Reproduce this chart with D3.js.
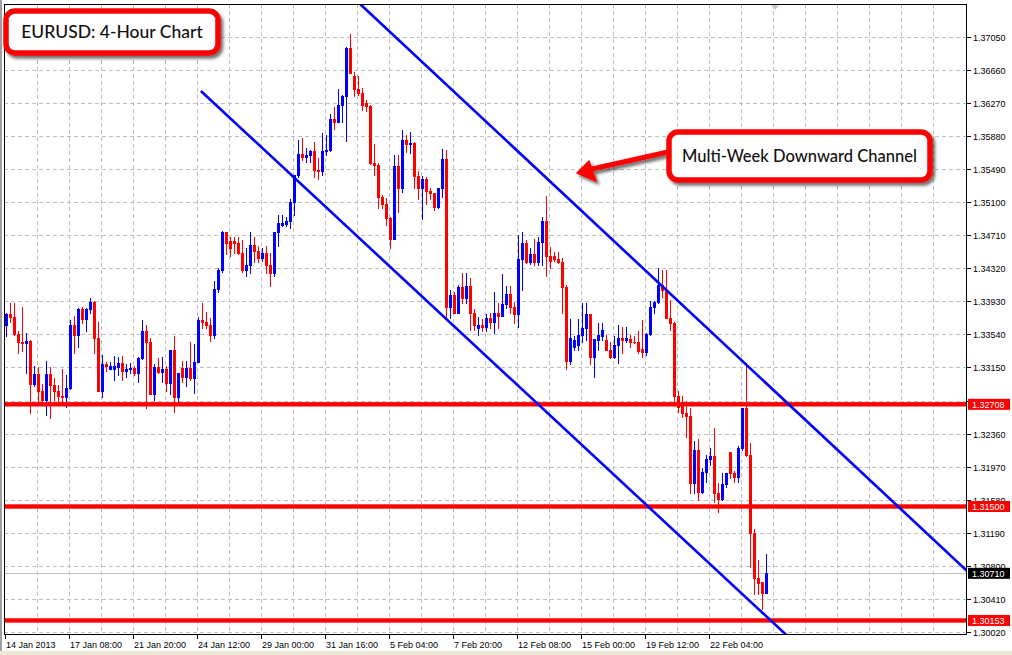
<!DOCTYPE html>
<html><head><meta charset="utf-8">
<script src="https://cdn.jsdelivr.net/npm/d3@7"></script>
<style>html,body{margin:0;padding:0;background:#fff;overflow:hidden}svg{display:block}</style>
</head><body><svg id="chart" width="1012" height="655"></svg>
<script>
// ---- data ----
const open = [1.3364,1.3377,1.3374,1.3354,1.3344,1.3343,1.3346,1.3295,1.3307,1.3286,1.3276,1.3307,1.3294,1.3286,1.3281,1.3280,1.3290,1.3364,1.3353,1.3383,
1.3372,1.3383,1.3392,1.3349,1.3287,1.3319,1.3313,1.3313,1.3315,1.3320,1.3310,1.3312,1.3314,1.3308,1.3325,1.3358,1.3344,1.3283,1.3315,1.3309,
1.3312,1.3296,1.3335,1.3279,1.3314,1.3303,1.3314,1.3302,1.3321,1.3371,1.3368,1.3365,1.3353,1.3407,1.3429,1.3474,1.3464,1.3464,1.3462,1.3450,
1.3429,1.3435,1.3459,1.3452,1.3444,1.3450,1.3436,1.3426,1.3475,1.3483,1.3484,1.3487,1.3510,1.3542,1.3567,1.3563,1.3565,1.3570,1.3548,1.3547,
1.3570,1.3572,1.3608,1.3605,1.3625,1.3635,1.3692,1.3659,1.3643,1.3639,1.3627,1.3624,1.3556,1.3554,1.3516,1.3507,1.3491,1.3466,1.3553,1.3527,
1.3583,1.3578,1.3580,1.3541,1.3527,1.3537,1.3523,1.3520,1.3504,1.3527,1.3561,1.3386,1.3400,1.3379,1.3410,1.3396,1.3411,1.3379,1.3361,1.3365,
1.3362,1.3373,1.3368,1.3379,1.3375,1.3389,1.3401,1.3386,1.3377,1.3442,1.3462,1.3439,1.3449,1.3439,1.3463,1.3487,1.3446,1.3446,1.3442,1.3439,
1.3410,1.3322,1.3339,1.3341,1.3353,1.3361,1.3377,1.3327,1.3347,1.3352,1.3347,1.3335,1.3327,1.3341,1.3349,1.3347,1.3348,1.3345,1.3344,1.3336,
1.3333,1.3354,1.3386,1.3392,1.3412,1.3406,1.3373,1.3367,1.3281,1.3274,1.3261,1.3257,1.3178,1.3217,1.3167,1.3191,1.3206,1.3210,1.3166,1.3159,
1.3177,1.3215,1.3190,1.3185,1.3219,1.3266,1.3211,1.3119,1.3065,1.3061,1.3048];
const high = [1.3379,1.3391,1.3391,1.3357,1.3386,1.3355,1.3347,1.3316,1.3315,1.3295,1.3322,1.3315,1.3302,1.3294,1.3313,1.3305,1.3371,1.3375,1.3385,1.3386,
1.3385,1.3396,1.3393,1.3368,1.3329,1.3321,1.3321,1.3328,1.3327,1.3328,1.3319,1.3320,1.3316,1.3327,1.3370,1.3365,1.3349,1.3318,1.3326,1.3327,
1.3316,1.3335,1.3352,1.3308,1.3322,1.3322,1.3345,1.3342,1.3374,1.3391,1.3380,1.3373,1.3417,1.3432,1.3476,1.3475,1.3469,1.3468,1.3468,1.3465,
1.3456,1.3475,1.3469,1.3458,1.3456,1.3458,1.3450,1.3475,1.3495,1.3494,1.3492,1.3513,1.3542,1.3583,1.3586,1.3574,1.3571,1.3581,1.3562,1.3592,
1.3589,1.3614,1.3622,1.3644,1.3637,1.3693,1.3708,1.3664,1.3659,1.3645,1.3631,1.3625,1.3578,1.3556,1.3518,1.3515,1.3492,1.3565,1.3566,1.3595,
1.3589,1.3593,1.3581,1.3547,1.3541,1.3539,1.3527,1.3521,1.3527,1.3573,1.3572,1.3406,1.3404,1.3412,1.3426,1.3426,1.3420,1.3383,1.3374,1.3372,
1.3377,1.3379,1.3403,1.3391,1.3425,1.3411,1.3411,1.3392,1.3471,1.3474,1.3465,1.3456,1.3466,1.3469,1.3492,1.3517,1.3457,1.3451,1.3451,1.3444,
1.3412,1.3372,1.3351,1.3372,1.3391,1.3391,1.3378,1.3348,1.3367,1.3367,1.3353,1.3345,1.3351,1.3364,1.3362,1.3362,1.3353,1.3351,1.3357,1.3371,
1.3355,1.3393,1.3393,1.3432,1.3430,1.3430,1.3394,1.3368,1.3287,1.3281,1.3275,1.3266,1.3227,1.3230,1.3195,1.3211,1.3219,1.3243,1.3178,1.3190,
1.3190,1.3215,1.3192,1.3221,1.3267,1.3320,1.3225,1.3123,1.3087,1.3061,1.3094];
const low = [1.3351,1.3368,1.3353,1.3332,1.3334,1.3308,1.3261,1.3292,1.3273,1.3273,1.3258,1.3255,1.3276,1.3273,1.3273,1.3268,1.3289,1.3332,1.3339,1.3367,
1.3358,1.3379,1.3332,1.3287,1.3279,1.3310,1.3312,1.3299,1.3305,1.3299,1.3303,1.3308,1.3305,1.3297,1.3324,1.3266,1.3283,1.3276,1.3308,1.3297,
1.3286,1.3283,1.3262,1.3274,1.3297,1.3292,1.3300,1.3284,1.3321,1.3361,1.3361,1.3346,1.3349,1.3403,1.3427,1.3449,1.3446,1.3450,1.3448,1.3427,
1.3422,1.3426,1.3439,1.3439,1.3440,1.3426,1.3411,1.3423,1.3458,1.3481,1.3481,1.3479,1.3495,1.3539,1.3560,1.3557,1.3557,1.3540,1.3537,1.3542,
1.3566,1.3570,1.3596,1.3604,1.3604,1.3582,1.3663,1.3635,1.3637,1.3619,1.3617,1.3555,1.3542,1.3503,1.3503,1.3483,1.3455,1.3466,1.3498,1.3522,
1.3569,1.3568,1.3527,1.3513,1.3490,1.3507,1.3513,1.3501,1.3503,1.3516,1.3373,1.3373,1.3379,1.3379,1.3391,1.3390,1.3359,1.3359,1.3353,1.3357,
1.3357,1.3361,1.3355,1.3361,1.3375,1.3385,1.3379,1.3367,1.3362,1.3406,1.3438,1.3437,1.3435,1.3435,1.3436,1.3423,1.3432,1.3440,1.3438,1.3379,
1.3312,1.3318,1.3335,1.3335,1.3345,1.3347,1.3318,1.3303,1.3335,1.3347,1.3335,1.3326,1.3326,1.3320,1.3332,1.3344,1.3339,1.3343,1.3331,1.3327,
1.3329,1.3353,1.3379,1.3391,1.3398,1.3373,1.3359,1.3273,1.3262,1.3256,1.3232,1.3166,1.3166,1.3158,1.3166,1.3179,1.3199,1.3155,1.3143,1.3158,
1.3173,1.3184,1.3179,1.3179,1.3217,1.3210,1.3078,1.3047,1.3046,1.3029,1.3048];
const close = [1.3377,1.3374,1.3354,1.3344,1.3343,1.3346,1.3295,1.3307,1.3286,1.3276,1.3307,1.3294,1.3286,1.3281,1.3280,1.3290,1.3364,1.3353,1.3383,1.3372,
1.3383,1.3392,1.3349,1.3287,1.3319,1.3316,1.3316,1.3316,1.3320,1.3310,1.3313,1.3314,1.3308,1.3325,1.3358,1.3344,1.3283,1.3315,1.3309,1.3312,
1.3296,1.3335,1.3279,1.3308,1.3303,1.3314,1.3302,1.3321,1.3371,1.3368,1.3365,1.3353,1.3407,1.3429,1.3474,1.3462,1.3456,1.3462,1.3450,1.3429,
1.3435,1.3459,1.3452,1.3444,1.3450,1.3436,1.3426,1.3475,1.3485,1.3485,1.3487,1.3510,1.3542,1.3567,1.3563,1.3566,1.3570,1.3548,1.3547,1.3570,
1.3572,1.3608,1.3605,1.3625,1.3635,1.3692,1.3663,1.3643,1.3639,1.3625,1.3624,1.3556,1.3554,1.3516,1.3507,1.3491,1.3466,1.3553,1.3527,1.3583,
1.3579,1.3580,1.3541,1.3527,1.3537,1.3523,1.3520,1.3504,1.3527,1.3561,1.3386,1.3400,1.3379,1.3410,1.3396,1.3411,1.3379,1.3364,1.3365,1.3362,
1.3373,1.3368,1.3379,1.3375,1.3389,1.3401,1.3386,1.3377,1.3442,1.3462,1.3439,1.3449,1.3439,1.3463,1.3487,1.3446,1.3440,1.3442,1.3439,1.3410,
1.3322,1.3349,1.3347,1.3353,1.3361,1.3377,1.3327,1.3348,1.3353,1.3359,1.3335,1.3327,1.3341,1.3349,1.3347,1.3349,1.3345,1.3344,1.3334,1.3333,
1.3354,1.3386,1.3392,1.3412,1.3406,1.3373,1.3367,1.3281,1.3268,1.3261,1.3257,1.3178,1.3217,1.3167,1.3191,1.3206,1.3210,1.3166,1.3159,1.3177,
1.3190,1.3190,1.3185,1.3219,1.3266,1.3211,1.3119,1.3065,1.3060,1.3048,1.3071];

const dateLabels = ["14 Jan 2013","17 Jan 08:00","21 Jan 20:00","24 Jan 12:00","29 Jan 00:00","31 Jan 16:00",
  "5 Feb 04:00","7 Feb 20:00","12 Feb 08:00","15 Feb 00:00","19 Feb 12:00","22 Feb 04:00"];
const barsPerDateLabel = 16;
const priceTicks = [1.37050,1.36660,1.36270,1.35880,1.35490,1.35100,1.34710,1.34320,1.33930,1.33540,1.33150,
  1.32750,1.32360,1.31970,1.31580,1.31190,1.30800,1.30410,1.30020];
const levels = [1.32708, 1.31500, 1.30153];
const lastPrice = 1.30710;
const upperChannel = [[88.6, 1.37440], [223.1, 1.31500]];
const lowerChannel = [[48.8, 1.36412], [160.6, 1.31500]];
const titleText = "EURUSD: 4-Hour Chart";
const noteText = "Multi-Week Downward Channel";

// ---- layout ----
const svg = d3.select("#chart");
const W = 1012, H = 655;
const PL = 4, PR = 966, PT = 4, PB = 634;
const BLUE = "#0000ff", RED = "#ff0000";

const x = d3.scaleLinear().domain([-0.25, 240]).range([4.7, 965.7]);
const y = d3.scaleLinear().domain([1.30020, 1.37050]).range([631.7, 37]);

svg.append("rect").attr("width", W).attr("height", H).attr("fill", "#ffffff");
svg.append("rect").attr("x", 0).attr("y", 651).attr("width", W).attr("height", 4).attr("fill", "#ece9d8");
svg.append("rect").attr("x", 0).attr("y", 0).attr("width", 2).attr("height", 651).attr("fill", "#a0a0a0");

const defs = svg.append("defs");
defs.append("clipPath").attr("id", "plotclip").append("rect")
  .attr("x", PL + 0.5).attr("y", PT + 0.5).attr("width", PR - PL - 0.5).attr("height", PB - PT - 0.5);
const f = defs.append("filter").attr("id", "shadow").attr("x", "-10%").attr("y", "-20%").attr("width", "130%").attr("height", "160%");
f.append("feDropShadow").attr("dx", 2.5).attr("dy", 3).attr("stdDeviation", 1.8)
  .attr("flood-color", "#000").attr("flood-opacity", 0.55);

const plot = svg.append("g").attr("clip-path", "url(#plotclip)");

// grid
const gridColor = "#c0c0c0";
const gx = plot.append("g").attr("shape-rendering", "crispEdges");
for (let b = 8; b < 240; b += 8) {
  const xx = Math.round(x(b)) - 0.5;
  gx.append("line").attr("x1", xx).attr("x2", xx).attr("y1", PT).attr("y2", PB)
    .attr("stroke", gridColor).attr("stroke-dasharray", "4,3");
}
priceTicks.forEach(p => {
  const yy = Math.round(y(p)) + 0.5;
  gx.append("line").attr("x1", PL).attr("x2", PR).attr("y1", yy).attr("y2", yy)
    .attr("stroke", gridColor).attr("stroke-dasharray", "4,3");
});
// last price line
plot.append("line").attr("x1", PL).attr("x2", PR)
  .attr("y1", Math.round(y(lastPrice)) + 0.5).attr("y2", Math.round(y(lastPrice)) + 0.5)
  .attr("stroke", "#c0c0c0").attr("shape-rendering", "crispEdges");

// candles
const data = open.map((o, i) => ({i, o, h: high[i], l: low[i], c: close[i]}));
const cg = plot.append("g").attr("shape-rendering", "crispEdges");
data.forEach(d => {
  const cx = Math.round(x(d.i));
  const col = d.c >= d.o ? BLUE : RED;
  const yh = Math.round(y(d.h)), yl = Math.round(y(d.l));
  cg.append("rect").attr("x", cx).attr("y", yh).attr("width", 1).attr("height", Math.max(1, yl - yh + 1)).attr("fill", col);
  const yt = Math.round(y(Math.max(d.o, d.c))), yb = Math.round(y(Math.min(d.o, d.c)));
  cg.append("rect").attr("x", cx - 1).attr("y", yt).attr("width", 3).attr("height", Math.max(1, yb - yt + 1)).attr("fill", col);
});

// horizontal levels
levels.forEach(p => {
  plot.append("rect").attr("x", PL).attr("width", PR - PL).attr("y", y(p) - 2.2).attr("height", 4.4).attr("fill", RED);
});

// channel lines
function ray(pts) {
  const [a, b] = pts;
  const slope = (b[1] - a[1]) / (b[0] - a[0]);
  const endBar = 260;
  return [[x(a[0]), y(a[1])], [x(endBar), y(a[1] + slope * (endBar - a[0]))]];
}
[upperChannel, lowerChannel].forEach(ch => {
  const s = ray(ch);
  plot.append("line").attr("x1", s[0][0]).attr("y1", s[0][1]).attr("x2", s[1][0]).attr("y2", s[1][1])
    .attr("stroke", BLUE).attr("stroke-width", 2.6);
});

// frame
svg.append("rect").attr("x", PL + 0.5).attr("y", PT + 0.5).attr("width", PR - PL).attr("height", PB - PT)
  .attr("fill", "none").attr("stroke", "#000").attr("shape-rendering", "crispEdges");
// shift marker
svg.append("path").attr("d", "M771,5 L779,5 L775,10 Z").attr("fill", "#c8c8c8");

// right axis
const ax = svg.append("g").attr("font-family", "Liberation Sans, Arial, sans-serif").attr("font-size", "9px");
priceTicks.forEach(p => {
  const yy = Math.round(y(p)) + 0.5;
  ax.append("line").attr("x1", PR + 0.5).attr("x2", PR + 4.5).attr("y1", yy).attr("y2", yy).attr("stroke", "#000").attr("shape-rendering", "crispEdges");
  ax.append("text").attr("x", 973).attr("y", yy).attr("dy", "0.35em").attr("fill", "#000").text(p.toFixed(5));
});
function priceTag(p, bg) {
  const yy = y(p);
  ax.append("rect").attr("x", 968).attr("y", yy - 5.5).attr("width", 42).attr("height", 11).attr("fill", bg);
  ax.append("text").attr("x", 972).attr("y", yy).attr("dy", "0.36em").attr("fill", "#fff").text(p.toFixed(5));
}
levels.forEach(p => priceTag(p, RED));
priceTag(lastPrice, "#000");

// bottom axis
const bx = svg.append("g").attr("font-family", "Liberation Sans, Arial, sans-serif").attr("font-size", "9px");
dateLabels.forEach((t, k) => {
  const xx = Math.round(x(k * barsPerDateLabel)) - 0.5;
  bx.append("line").attr("x1", xx).attr("x2", xx).attr("y1", PB + 0.5).attr("y2", PB + 5).attr("stroke", "#000").attr("shape-rendering", "crispEdges");
  bx.append("text").attr("x", xx + 0.5).attr("y", 648).attr("fill", "#000").text(t);
});

// annotations
const ann = svg.append("g");
function box(x0, y0, w, h, txt, fs) {
  ann.append("rect").attr("x", x0).attr("y", y0).attr("width", w).attr("height", h).attr("rx", 9).attr("ry", 9)
    .attr("fill", "#fff").attr("stroke", RED).attr("stroke-width", 5.5).attr("filter", "url(#shadow)");
  ann.append("text").attr("x", x0 + w / 2).attr("y", y0 + h / 2).attr("dy", "0.36em").attr("text-anchor", "middle")
    .attr("font-family", "Lato, 'Open Sans', sans-serif").attr("font-size", fs + "px").attr("font-weight", 500)
    .attr("fill", "#111").text(txt);
}
// arrow
const arr = ann.append("g").attr("filter", "url(#shadow)");
arr.append("line").attr("x1", 668).attr("y1", 152).attr("x2", 592).attr("y2", 169).attr("stroke", RED).attr("stroke-width", 5);
arr.append("path").attr("d", "M577,173 L589,161 L596,181 Z").attr("fill", RED).attr("stroke", RED).attr("stroke-width", 1.5).attr("stroke-linejoin", "round");
box(6, 11, 212, 42, titleText, 17.5);
box(669, 132, 261, 48, noteText, 16.5);
</script></body></html>
